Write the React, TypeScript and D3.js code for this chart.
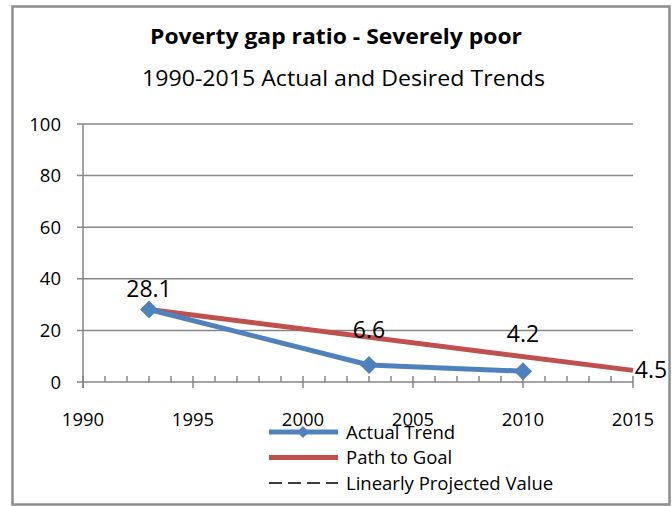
import React from "react";
import * as d3 from "d3";

const actualYears = [1993, 2003, 2010];
const actualValues = [28.1, 6.6, 4.2];
const goalYears = [1993, 2015];
const goalValues = [28.1, 4.5];
const labelYears = [1993, 2003, 2010, 2015];
const labelTexts = ["28.1", "6.6", "4.2", "4.5"];
const labelValues = [28.1, 6.6, 4.2, 4.5];
const labelDy = [-13, -27, -29, 8];
const labelDx = [0, 0, 0, 18];
const yTicks = [0, 20, 40, 60, 80, 100];
const xTicks = [1990, 1995, 2000, 2005, 2010, 2015];
const legendItems = ["Actual Trend", "Path to Goal", "Linearly Projected Value"];

const BLUE = "#4F81BD";
const RED = "#C0504D";
const GRAY = "#868686";
const FONT = "'Open Sans', 'Noto Sans', sans-serif";

export default function App() {
  const x = d3.scaleLinear().domain([1990, 2015]).range([83, 633]);
  const y = d3.scaleLinear().domain([0, 100]).range([382, 124]);
  const line = d3
    .line<[number, number]>()
    .x((d) => x(d[0]))
    .y((d) => y(d[1]));
  const actual: [number, number][] = actualYears.map((yr, i) => [yr, actualValues[i]]);
  const goal: [number, number][] = goalYears.map((yr, i) => [yr, goalValues[i]]);
  const minor = d3.range(1990, 2016);
  const diamond = (cx: number, cy: number, r: number) =>
    `M${cx},${cy - r}L${cx + r},${cy}L${cx},${cy + r}L${cx - r},${cy}Z`;

  return (
    <svg
      width={672}
      height={506}
      style={{ position: "absolute", left: 0, top: 0, background: "#fff" }}
      fontFamily={FONT}
    >
      <rect x={0} y={0} width={672} height={506} fill="#fff" />
      <rect x={12.5} y={6.5} width={657} height={498} fill="none" stroke="#8c8c8c" strokeWidth={2.5} />

      <text
        x={336}
        y={44}
        textAnchor="middle"
        fontWeight="bold"
        fontSize={21.5}
        fill="#000"
        textLength={372}
        lengthAdjust="spacingAndGlyphs"
      >
        Poverty gap ratio - Severely poor
      </text>
      <text
        x={343.5}
        y={85.5}
        textAnchor="middle"
        fontSize={21.5}
        fill="#000"
        textLength={403}
        lengthAdjust="spacingAndGlyphs"
      >
        1990-2015 Actual and Desired Trends
      </text>

      {yTicks.map((t) => (
        <g key={t}>
          <line x1={77} x2={633} y1={y(t)} y2={y(t)} stroke={GRAY} strokeWidth={1.5} />
          <text x={61} y={y(t)} dy="0.36em" textAnchor="end" fontSize={18.5} fill="#000">
            {t}
          </text>
        </g>
      ))}
      <line x1={x(1990)} x2={x(1990)} y1={y(100)} y2={388} stroke={GRAY} strokeWidth={1.5} />
      {minor.map((yr) => (
        <line
          key={yr}
          x1={x(yr)}
          x2={x(yr)}
          y1={376}
          y2={yr % 5 === 0 ? 388 : y(0)}
          stroke={GRAY}
          strokeWidth={1.5}
        />
      ))}
      {xTicks.map((t) => (
        <text key={t} x={x(t)} y={426} textAnchor="middle" fontSize={18.5} fill="#000">
          {t}
        </text>
      ))}

      <path d={line(goal) || ""} fill="none" stroke={RED} strokeWidth={5} />
      <path d={line(actual) || ""} fill="none" stroke={BLUE} strokeWidth={5} strokeLinejoin="round" />
      {actual.map((d, i) => (
        <path key={i} d={diamond(x(d[0]), y(d[1]), 9)} fill={BLUE} />
      ))}

      {labelYears.map((yr, i) => (
        <text
          key={yr}
          x={x(yr) + labelDx[i]}
          y={y(labelValues[i]) + labelDy[i]}
          textAnchor="middle"
          fontSize={23}
          fill="#000"
        >
          {labelTexts[i]}
        </text>
      ))}

      {legendItems.map((name, i) => {
        const ly = 432 + i * 25.5;
        return (
          <g key={name}>
            {i === 0 && (
              <>
                <line x1={269} x2={338} y1={ly} y2={ly} stroke={BLUE} strokeWidth={5} />
                <path d={diamond(303, ly, 6)} fill={BLUE} />
              </>
            )}
            {i === 1 && <line x1={269} x2={338} y1={ly} y2={ly} stroke={RED} strokeWidth={5} />}
            {i === 2 && (
              <line x1={269} x2={338} y1={ly} y2={ly} stroke="#000" strokeWidth={1.5} strokeDasharray="13,6" />
            )}
            <text x={346} y={ly} dy="0.36em" fontSize={18.5} fill="#000">
              {name}
            </text>
          </g>
        );
      })}
    </svg>
  );
}
